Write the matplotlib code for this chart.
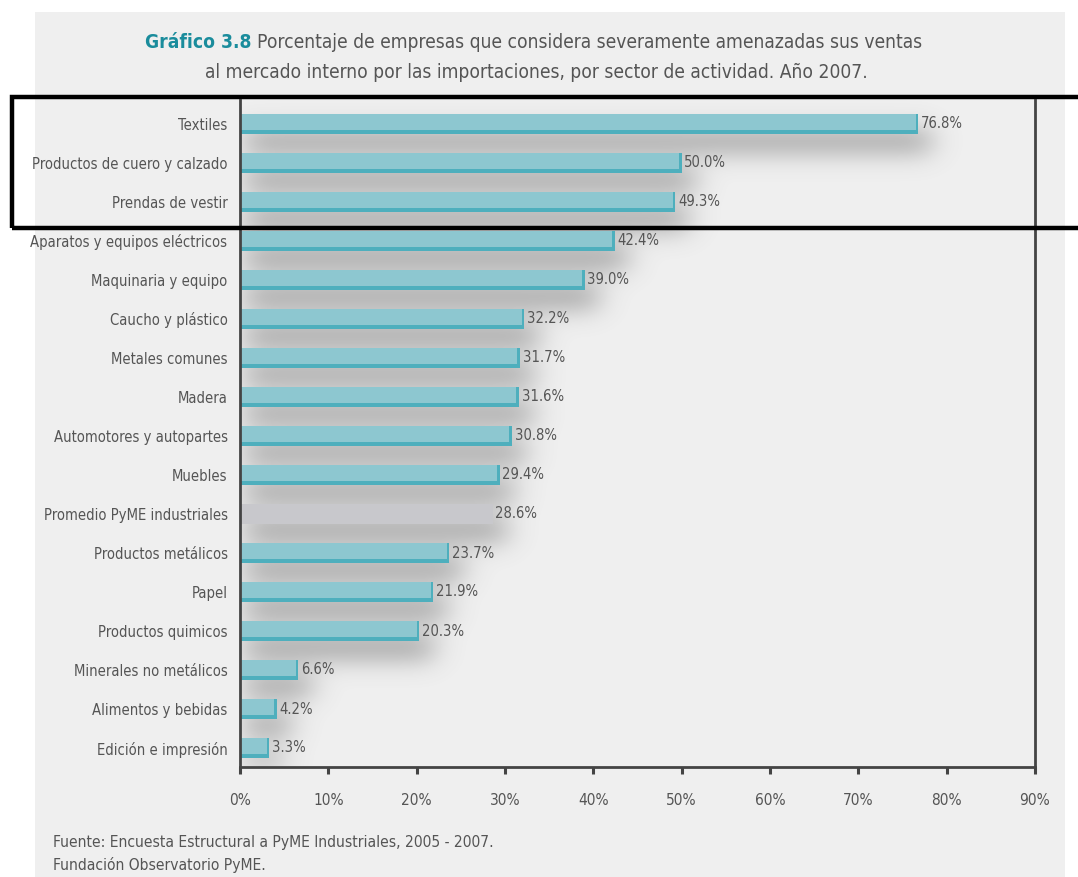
import numpy as np
import matplotlib.pyplot as plt
from matplotlib.patches import Rectangle
from matplotlib import font_manager
from matplotlib.font_manager import FontProperties

# ── Data ──────────────────────────────────────────────────────────────────────
categories = [
    "Textiles", "Productos de cuero y calzado", "Prendas de vestir",
    "Aparatos y equipos eléctricos", "Maquinaria y equipo", "Caucho y plástico",
    "Metales comunes", "Madera", "Automotores y autopartes", "Muebles",
    "Promedio PyME industriales", "Productos metálicos", "Papel",
    "Productos quimicos", "Minerales no metálicos", "Alimentos y bebidas",
    "Edición e impresión",
]
values = [76.8, 50.0, 49.3, 42.4, 39.0, 32.2, 31.7, 31.6, 30.8, 29.4,
          28.6, 23.7, 21.9, 20.3, 6.6, 4.2, 3.3]
highlight = "Promedio PyME industriales"
xticks = [0, 10, 20, 30, 40, 50, 60, 70, 80, 90]

# ── Style ─────────────────────────────────────────────────────────────────────
files = [f.fname for f in font_manager.fontManager.ttflist]


def find(*cands):
    for c in cands:
        for f in files:
            if f.endswith(c):
                return f
    return None


reg = find("LiberationSansNarrow-Regular.ttf", "DejaVuSansCondensed.ttf")
bold = find("LiberationSansNarrow-Bold.ttf", "DejaVuSansCondensed-Bold.ttf")
if reg:
    FP = lambda s: FontProperties(fname=reg, size=s)
    FPB = lambda s: FontProperties(fname=bold or reg, size=s)
    SCALE = 1.0 if "Narrow" in reg else 0.92
else:
    FP = lambda s: FontProperties(family="Liberation Sans", size=s)
    FPB = lambda s: FontProperties(family="Liberation Sans", weight="bold", size=s)
    SCALE = 0.85

TXT = "#555555"
TEAL_TOP = "#8dc7d0"
TEAL_DARK = "#4eafbd"
GRAY_TOP = "#c8c8cc"
GRAY_DARK = "#b5b5ba"
BG = "#efefef"
# ──────────────────────────────────────────────────────────────────────────────

fig = plt.figure(figsize=(10.78, 8.77), dpi=100)
fig.patch.set_facecolor("white")
fig.patches.append(Rectangle((35 / 1078, 0), 1030 / 1078, 1 - 12 / 877,
                             transform=fig.transFigure, facecolor=BG,
                             edgecolor="none", zorder=-10))

ax = fig.add_axes([240 / 1078, 1 - 767 / 877, (1035 - 240) / 1078, (767 - 100) / 877])
ax.set_facecolor("none")

n = len(categories)
pos = list(range(n))
bh = 0.5
y0, y1 = -24 / 39, n - 1 + 19 / 39

# blurred drop shadow under each bar
xs = np.linspace(-4, 92, 961)
ys = np.linspace(y0, y1, 700)
X, Y = np.meshgrid(xs, ys)
mask = np.zeros_like(X)
for i, v in enumerate(values):
    mask[(X >= 0.5) & (X <= v + 1.5) & (Y >= i + 0.15) & (Y <= i + 0.7)] = 1.0


def blur(a, sigma, axis):
    r = int(3 * sigma)
    k = np.exp(-0.5 * (np.arange(-r, r + 1) / sigma) ** 2)
    k /= k.sum()
    out = np.zeros_like(a)
    pad = [(0, 0), (0, 0)]
    pad[axis] = (r, r)
    p = np.pad(a, pad)
    for j, w in enumerate(k):
        out += w * (p[j:j + a.shape[0], :] if axis == 0 else p[:, j:j + a.shape[1]])
    return out


sh = blur(blur(mask, 16, 1), 13, 0)
rgba = np.zeros(sh.shape + (4,))
rgba[..., :3] = 0.42
rgba[..., 3] = np.clip(sh * 0.62, 0, 1)
ax.imshow(rgba, extent=(xs[0], xs[-1], y1, y0), aspect="auto", origin="upper",
          zorder=1, interpolation="bilinear")

for i, (c, v) in enumerate(zip(categories, values)):
    top, dark = (GRAY_TOP, GRAY_DARK) if c == highlight else (TEAL_TOP, TEAL_DARK)
    ax.barh(i, v, height=bh, color=top, edgecolor="none", zorder=3)
    if c != highlight:
        ax.barh(i + bh / 2 - 0.05, v, height=0.1, color=dark, edgecolor="none", zorder=4)
        ax.barh(i, 0.3, left=v - 0.3, height=bh, color=dark, edgecolor="none", zorder=4)
    ax.text(v + 0.3, i, f"{v:.1f}%", va="center", ha="left", fontproperties=FP(11.5 * SCALE),
            color=TXT, zorder=5)

ax.set_ylim(y1, y0)
ax.set_xlim(0, 90)
ax.set_yticks(pos)
ax.set_yticklabels(categories, color=TXT)
for t in ax.get_yticklabels():
    t.set_fontproperties(FP(10.6))
ax.tick_params(axis="y", length=0, pad=9)
ax.set_xticks(xticks)
ax.set_xticklabels([f"{t}%" for t in xticks], color=TXT)
for t in ax.get_xticklabels():
    t.set_fontproperties(FP(12 * SCALE))
ax.tick_params(axis="x", length=5, width=2.2, color="#444444", direction="out", pad=14)

for s in ["left", "bottom", "right"]:
    ax.spines[s].set_color("#444444")
    ax.spines[s].set_linewidth(2)
    ax.spines[s].set_zorder(6)
ax.spines["top"].set_visible(False)

# title
t1 = fig.text(145 / 1078, 1 - 42 / 877, "Gráfico 3.8", fontproperties=FPB(13.8),
              color="#1a8c9c", ha="left", va="center")
fig.canvas.draw()
x_end = t1.get_window_extent().x1 / 1078 + 6 / 1078
fig.text(x_end, 1 - 42 / 877,
         "Porcentaje de empresas que considera severamente amenazadas sus ventas",
         fontproperties=FP(13.8), color=TXT, ha="left", va="center")
fig.text(536 / 1078, 1 - 72 / 877,
         "al mercado interno por las importaciones, por sector de actividad. Año 2007.",
         fontproperties=FP(13.8), color=TXT, ha="center", va="center")

# footer
fig.text(53 / 1078, 1 - 842 / 877, "Fuente: Encuesta Estructural a PyME Industriales, 2005 - 2007.",
         fontproperties=FP(11.2), color=TXT, ha="left", va="center")
fig.text(53 / 1078, 1 - 865 / 877, "Fundación Observatorio PyME.",
         fontproperties=FP(11.2), color=TXT, ha="left", va="center")

# black highlight box around the top three sectors
fig.patches.append(Rectangle((12 / 1078, 1 - 228 / 877), 1.05, (228 - 97) / 877,
                             transform=fig.transFigure, facecolor="none",
                             edgecolor="black", linewidth=3.2, zorder=20))

fig.savefig("out.png", dpi=100)
